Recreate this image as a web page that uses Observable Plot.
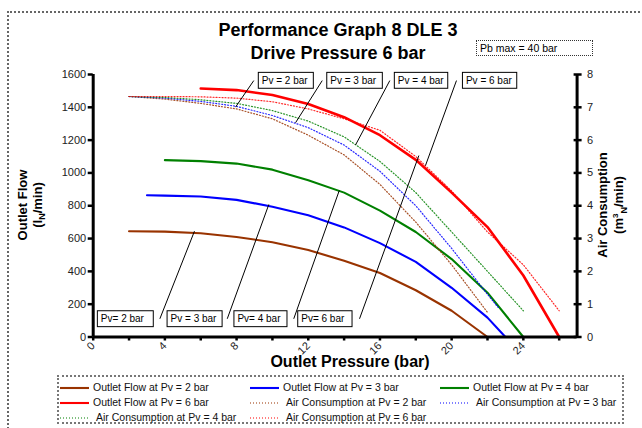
<!DOCTYPE html>
<html>
<head>
<meta charset="utf-8">
<script src="https://cdn.jsdelivr.net/npm/d3@7"></script>
<script src="https://cdn.jsdelivr.net/npm/@observablehq/plot@0.6"></script>
<style>
  html, body { margin: 0; padding: 0; background: #fff; }
  body { width: 642px; height: 428px; overflow: hidden; font-family: Arial, "Liberation Sans", sans-serif; }
  #wrap { position: relative; width: 642px; height: 428px; }
  #wrap > svg { position: absolute; left: 0; top: 0; }
  .abs { position: absolute; white-space: nowrap; color: #000; }
  .title { font-weight: bold; font-size: 18px; line-height: 18px; transform: translateX(-50%); }
  .ytitle { font-weight: bold; font-size: 13px; line-height: 14px; transform: translate(-50%, -50%) rotate(-90deg); }
  .box { border: 1px dotted #333; font-size: 10.5px; line-height: 14px; padding-left: 3px; box-sizing: border-box; }
  #frame { position: absolute; left: 7px; top: 11px; width: 645px; height: 430px; border: 2px dotted #666; box-sizing: border-box; }
  #legend { position: absolute; left: 57px; top: 375px; width: 567px; height: 49px; border: 2px dotted #777; box-sizing: border-box; background: #fff; }
  .lg { position: absolute; font-size: 10.5px; line-height: 12px; color: #111; white-space: nowrap; }
  #legend svg { position: static; display: inline-block; vertical-align: middle; }
</style>
</head>
<body>
<div id="wrap">
  <div id="frame"></div>
</div>
<script>
// ---------------- data ----------------
const pFlow2 = [2, 4, 6, 8, 10, 12, 14, 16, 18, 20, 22];
const flow2  = [645, 642, 632, 610, 578, 530, 465, 390, 285, 160, 0];
const pFlow3 = [3, 4, 6, 8, 10, 12, 14, 16, 18, 20, 22, 23];
const flow3  = [864, 862, 856, 836, 794, 742, 668, 572, 458, 300, 118, 0];
const pFlow4 = [4, 6, 8, 10, 12, 14, 16, 18, 20, 22, 24];
const flow4  = [1078, 1072, 1057, 1020, 955, 880, 770, 640, 475, 270, 0];
const pFlow6 = [6, 8, 10, 12, 14, 16, 18, 20, 22, 24, 26];
const flow6  = [1515, 1505, 1475, 1420, 1340, 1230, 1080, 880, 670, 375, 0];

const pAir2 = [2, 4, 6, 8, 10, 12, 14, 16, 18, 20, 22];
const air2  = [7.33, 7.25, 7.12, 6.95, 6.65, 6.15, 5.55, 4.65, 3.5, 2.2, 0.75];
const pAir3 = [2, 4, 6, 8, 10, 12, 14, 16, 18, 20, 22, 22.6];
const air3  = [7.33, 7.28, 7.18, 7.03, 6.75, 6.38, 5.85, 5.05, 4.0, 2.7, 1.3, 0.9];
const pAir4 = [2, 4, 6, 8, 10, 12, 14, 16, 18, 20, 22, 24];
const air4  = [7.33, 7.3, 7.23, 7.12, 6.9, 6.58, 6.1, 5.35, 4.4, 3.2, 2.0, 0.8];
const pAir6 = [2, 4, 6, 8, 10, 12, 14, 16, 18, 20, 22, 24, 26];
const air6  = [7.33, 7.33, 7.32, 7.28, 7.17, 6.95, 6.65, 6.3, 5.5, 4.45, 3.2, 2.2, 0.8];

const seriesLabels = [
  "Outlet Flow at Pv = 2 bar", "Outlet Flow at Pv = 3 bar", "Outlet Flow at Pv = 4 bar",
  "Outlet Flow at Pv = 6 bar", "Air Consumption at Pv = 2 bar", "Air Consumption at Pv = 3 bar",
  "Air Consumption at Pv = 4 bar", "Air Consumption at Pv = 6 bar"
];
const seriesColors = ["#993300", "#0000ff", "#008000", "#ff0000", "#993300", "#0000ff", "#008000", "#ff0000"];

const xTicks = [0, 2, 4, 6, 8, 10, 12, 14, 16, 18, 20, 22, 24, 26];
const yTicksFlow = [0, 200, 400, 600, 800, 1000, 1200, 1400, 1600];
const yTicksAir = [0, 1, 2, 3, 4, 5, 6, 7, 8];
const flowMax = 1600, airMax = 8, xMax = 27;

// annotation boxes (data units: bar, l/min)
const annLabels = ["Pv = 2 bar", "Pv = 3 bar", "Pv = 4 bar", "Pv = 6 bar", "Pv= 2 bar", "Pv = 3 bar", "Pv= 4 bar", "Pv= 6 bar"];
const annX1 = [9.24, 13.06, 16.83, 20.63, 0.26, 4.15, 7.88, 11.44];
const annX2 = [12.31, 16.16, 19.81, 23.66, 3.38, 7.22, 10.84, 14.47];
const annY1 = [1513, 1513, 1513, 1513, 60, 60, 60, 60];
const annY2 = [1610, 1610, 1610, 1610, 157, 157, 157, 157];
const leadX1 = [8.96, 12.78, 16.55, 20.27, 3.72, 7.48, 11.19, 14.86];
const leadY1 = [1563, 1563, 1563, 1563, 111, 111, 111, 111];
const leadX2 = [7.94, 11.29, 14.64, 18.54, 5.65, 9.80, 13.73, 18.17];
const leadY2 = [1401, 1306, 1171, 1045, 645, 808, 893, 1106];

// ---------------- build ----------------
const airToFlow = flowMax / airMax;
const seriesP = [pFlow2, pFlow3, pFlow4, pFlow6, pAir2, pAir3, pAir4, pAir6];
const seriesV = [flow2, flow3, flow4, flow6, air2, air3, air4, air6];
const series = seriesLabels.map((label, s) => ({
  label, color: seriesColors[s], air: s >= 4,
  rows: seriesP[s].map((p, i) => ({p, v: s >= 4 ? seriesV[s][i] * airToFlow : seriesV[s][i]}))
}));

const lineMarks = series.map(s => Plot.line(s.rows, {
  x: "p", y: "v", stroke: s.color,
  strokeWidth: s.air ? 1.2 : (s.color === "#ff0000" ? 2.6 : 2.1),
  strokeOpacity: s.air ? 0.85 : 1,
  strokeDasharray: s.air ? "1,2" : null,
  strokeLinejoin: "round"
}));

const ann = annLabels.map((t, i) => ({t, x1: annX1[i], x2: annX2[i], y1: annY1[i], y2: annY2[i],
  lx1: leadX1[i], ly1: leadY1[i], lx2: leadX2[i], ly2: leadY2[i]}));

const chart = Plot.plot({
  width: 642, height: 428,
  marginLeft: 92.7, marginRight: 65.4, marginTop: 74, marginBottom: 91.5,
  style: {fontFamily: "Arial, 'Liberation Sans', sans-serif", fontSize: "11px", background: "transparent", color: "#222"},
  x: {domain: [0, xMax]},
  y: {domain: [0, flowMax]},
  marks: [
    Plot.axisY({ticks: yTicksFlow, tickFormat: d => String(d), tickSize: 5, tickPadding: 2, strokeWidth: 2.5, stroke: "#000", label: null}),
    Plot.axisY({anchor: "right", ticks: yTicksAir.map(d => d * airToFlow), tickFormat: d => String(d / airToFlow),
      tickSize: 8, tickPadding: 6, dx: -4, strokeWidth: 2.5, stroke: "#000", label: null}),
    Plot.axisX({ticks: xTicks, tickFormat: d => d % 4 === 0 ? String(d) : "", tickRotate: -45, tickSize: 4,
      tickPadding: 3, strokeWidth: 2.5, stroke: "#000", label: null}),
    ...lineMarks,
    Plot.link(ann, {x1: "lx1", y1: "ly1", x2: "lx2", y2: "ly2", stroke: "#000", strokeWidth: 1}),
    Plot.rect(ann, {x1: "x1", x2: "x2", y1: "y1", y2: "y2", fill: "#fff", stroke: "#000", strokeWidth: 1}),
    Plot.text(ann, {x: "x1", y: d => (d.y1 + d.y2) / 2, text: "t", textAnchor: "start", dx: 3, fontSize: 10, fill: "#000"}),
    Plot.ruleX([0, xMax], {stroke: "#000", strokeWidth: 3}),
    Plot.ruleY([0], {stroke: "#000", strokeWidth: 3})
  ]
});
const wrap = document.getElementById("wrap");
wrap.appendChild(chart);

function addDiv(cls, html, style) {
  const d = document.createElement("div");
  d.className = "abs " + cls;
  d.innerHTML = html;
  Object.assign(d.style, style);
  wrap.appendChild(d);
  return d;
}
addDiv("title", "Performance Graph 8 DLE 3", {left: "338px", top: "21px"});
addDiv("title", "Drive Pressure 6 bar", {left: "338px", top: "44px"});
addDiv("box", "Pb max = 40 bar", {left: "476px", top: "40px", width: "117px", height: "16px"});
addDiv("title", "Outlet Pressure (bar)", {left: "350px", top: "353px", fontSize: "16px"});
addDiv("ytitle", "Outlet Flow", {left: "23px", top: "205px"});
addDiv("ytitle", "(l<sub style='font-size:9px'>N</sub>/min)", {left: "40px", top: "205px"});
addDiv("ytitle", "Air Consumption", {left: "603px", top: "205px"});
addDiv("ytitle", "(m<sup style='font-size:8px'>3</sup><sub style='font-size:9px'>N</sub>/min)", {left: "620px", top: "205px"});

// legend
const legend = document.createElement("div");
legend.id = "legend";
wrap.appendChild(legend);
const colX = [1, 191, 381];
const rowY = [4, 19, 34];
series.forEach((s, i) => {
  const col = i % 3, row = Math.floor(i / 3);
  const item = document.createElement("div");
  item.className = "lg";
  item.style.left = colX[col] + "px";
  item.style.top = rowY[row] + "px";
  const sw = d3.create("svg").attr("width", s.air ? 36 : 33).attr("height", 8);
  sw.append("line").attr("x1", 0).attr("x2", 29).attr("y1", 4).attr("y2", 4)
    .attr("stroke", s.color).attr("stroke-width", s.air ? 1.2 : 2.1)
    .attr("stroke-dasharray", s.air ? "1,2" : null);
  item.appendChild(sw.node());
  item.appendChild(document.createTextNode(s.label));
  legend.appendChild(item);
});
</script>
</body>
</html>
